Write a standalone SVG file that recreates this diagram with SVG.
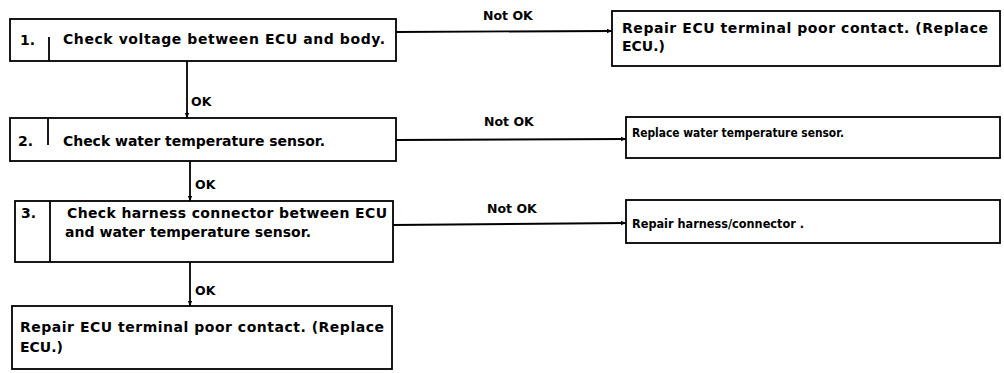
<svg xmlns="http://www.w3.org/2000/svg" width="1004" height="373" viewBox="0 0 1004 373">
<style>
.box{fill:#fff;stroke:#000;stroke-width:1.8}
.div{stroke:#000;stroke-width:1.8}
.t{font-family:"DejaVu Sans","Liberation Sans",sans-serif;font-weight:bold;font-size:14px;fill:#000}
.s{font-size:12.5px}
.c{stroke:#000;stroke-width:1.8;fill:none}
</style>
<defs>
<marker id="ah" markerWidth="6" markerHeight="6" refX="5" refY="3" orient="auto" markerUnits="userSpaceOnUse">
<path d="M0,0.8 L5,3 L0,5.2 Z" fill="#000"/>
</marker>
</defs>
<rect width="1004" height="373" fill="#fff"/>
<g id="connectors">
<line class="c" x1="396" y1="32" x2="612" y2="31" marker-end="url(#ah)"/>
<text class="t s" x="483" y="20">Not OK</text>
<line class="c" x1="187" y1="61" x2="187" y2="118" marker-end="url(#ah)"/>
<text class="t s" x="191" y="106">OK</text>
<line class="c" x1="396" y1="140" x2="626" y2="139" marker-end="url(#ah)"/>
<text class="t s" x="484" y="126">Not OK</text>
<line class="c" x1="190" y1="161" x2="190" y2="201" marker-end="url(#ah)"/>
<text class="t s" x="195" y="189">OK</text>
<line class="c" x1="393" y1="225" x2="626" y2="223" marker-end="url(#ah)"/>
<text class="t s" x="487" y="213">Not OK</text>
<line class="c" x1="190" y1="262" x2="190" y2="306" marker-end="url(#ah)"/>
<text class="t s" x="195" y="295">OK</text>
</g>
<g id="step1">
<rect class="box" x="10" y="19" width="386" height="42"/>
<line class="div" x1="49" y1="37" x2="49" y2="61"/>
<text class="t" x="20" y="45">1.</text>
<text class="t" x="63" y="44" textLength="322" lengthAdjust="spacing">Check voltage between ECU and body.</text>
</g>
<g id="result1">
<rect class="box" x="612" y="11" width="388" height="55"/>
<text class="t" x="622" y="33" textLength="366" lengthAdjust="spacing">Repair ECU terminal poor contact. (Replace</text>
<text class="t" x="622" y="51">ECU.)</text>
</g>
<g id="step2">
<rect class="box" x="10" y="118" width="386" height="43"/>
<line class="div" x1="48" y1="118" x2="48" y2="145"/>
<text class="t" x="18" y="146">2.</text>
<text class="t" x="63" y="146" textLength="262" lengthAdjust="spacing">Check water temperature sensor.</text>
</g>
<g id="result2">
<rect class="box" x="626" y="117" width="374" height="41"/>
<text class="t s" x="632" y="137" textLength="212" lengthAdjust="spacingAndGlyphs">Replace water temperature sensor.</text>
</g>
<g id="step3">
<rect class="box" x="15" y="201" width="378" height="61"/>
<line class="div" x1="50" y1="201" x2="50" y2="262"/>
<text class="t" x="21" y="218">3.</text>
<text class="t" x="67" y="218" textLength="320" lengthAdjust="spacing">Check harness connector between ECU</text>
<text class="t" x="65" y="237" textLength="246" lengthAdjust="spacing">and water temperature sensor.</text>
</g>
<g id="result3">
<rect class="box" x="626" y="200" width="374" height="43"/>
<text class="t s" x="632" y="228" textLength="172" lengthAdjust="spacingAndGlyphs">Repair harness/connector .</text>
</g>
<g id="final">
<rect class="box" x="12" y="306" width="380" height="63"/>
<text class="t" x="20" y="332" textLength="364" lengthAdjust="spacing">Repair ECU terminal poor contact. (Replace</text>
<text class="t" x="20" y="352">ECU.)</text>
</g>
</svg>
